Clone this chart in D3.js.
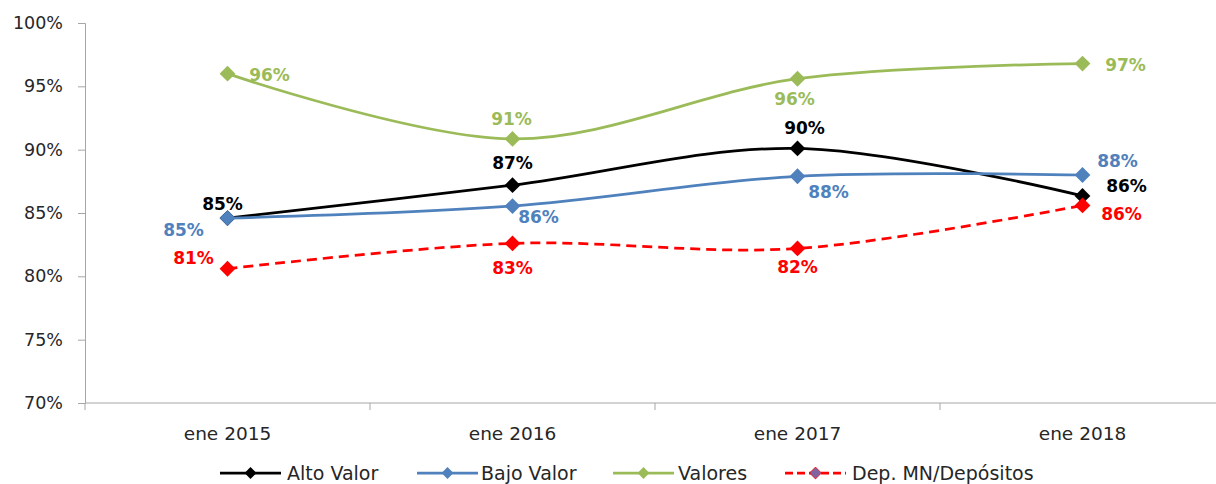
<!DOCTYPE html>
<html>
<head>
<meta charset="utf-8">
<script src="https://cdn.jsdelivr.net/npm/d3@7"></script>
<style>
  body { margin: 0; background: #fff; }
  svg { display: block; }
</style>
</head>
<body>
<script>
// categories and series values (share, 0-1)
const categories = ["ene 2015", "ene 2016", "ene 2017", "ene 2018"];
const altoValor = [0.846, 0.872, 0.901, 0.8635];
const bajoValor = [0.846, 0.8555, 0.879, 0.880];
const valores = [0.960, 0.9085, 0.956, 0.968];
const depMN = [0.806, 0.826, 0.822, 0.856];
const yTicks = [0.70, 0.75, 0.80, 0.85, 0.90, 0.95, 1.00];

const series = [
    {name: "Alto Valor", values: altoValor, color: '#000000', dash: null,
     labelOffsets: [[-5, -14], [0, -22], [7, -20], [44, -10]]},
    {name: "Bajo Valor", values: bajoValor, color: '#4f81bd', dash: null,
     labelOffsets: [[-44, 12], [26, 11], [31, 16], [35, -14]]},
    {name: "Valores", values: valores, color: '#9bbb59', dash: null,
     labelOffsets: [[42, 1], [-1, -20], [-3, 20], [43, 1]]},
    {name: "Dep. MN/Depósitos", values: depMN, color: '#ff0000', dash: '10,6',
     labelOffsets: [[-34, -11], [0, 25], [0, 19], [39, 9]]}
];

const width = 1216, height = 484;
const plot = {left: 85, right: 1225, top: 23, bottom: 403};

const svg = d3.select('body').append('svg')
    .attr('width', width)
    .attr('height', height);

const scaleX = d3.scaleBand()
    .domain(categories)
    .range([plot.left, plot.right]);

const scaleY = d3.scaleLinear()
    .domain([0.70, 1.00])
    .range([plot.bottom, plot.top]);

const xc = d => scaleX(d) + scaleX.bandwidth() / 2;

// y axis
const yAxis = d3.axisLeft(scaleY)
    .tickValues(yTicks)
    .tickFormat(d3.format('.0%'))
    .tickSize(7)
    .tickPadding(15);

const yAxisGroup = svg.append('g')
    .attr('transform', `translate(${plot.left}, 0)`)
    .call(yAxis);
yAxisGroup.selectAll('path, line').attr('stroke', '#a6a6a6');
yAxisGroup.selectAll('text')
    .attr('font-family', 'DejaVu Sans')
    .attr('font-size', 17.5)
    .attr('fill', '#262626');

// x axis, ticks between categories
const xAxisGroup = svg.append('g')
    .attr('transform', `translate(0, ${plot.bottom})`);
xAxisGroup.append('line')
    .attr('x1', plot.left).attr('x2', plot.right)
    .attr('stroke', '#a6a6a6');
xAxisGroup.selectAll('.tick-mark')
    .data(categories.concat(['end']))
    .enter()
    .append('line')
    .attr('class', 'tick-mark')
    .attr('x1', (d, i) => i < categories.length ? scaleX(d) : plot.right)
    .attr('x2', (d, i) => i < categories.length ? scaleX(d) : plot.right)
    .attr('y1', 0).attr('y2', 7)
    .attr('stroke', '#a6a6a6');
xAxisGroup.selectAll('.cat-label')
    .data(categories)
    .enter()
    .append('text')
    .attr('class', 'cat-label')
    .attr('x', d => xc(d))
    .attr('y', 37)
    .attr('text-anchor', 'middle')
    .attr('font-family', 'DejaVu Sans')
    .attr('font-size', 18.5)
    .attr('fill', '#262626')
    .text(d => d);

// lines
const line = d3.line()
    .x((d, i) => xc(categories[i]))
    .y(d => scaleY(d))
    .curve(d3.curveCardinal.tension(0));

const diamond = d3.symbol(d3.symbolSquare, 125);

series.forEach(s => {
    svg.append('path')
        .datum(s.values)
        .attr('d', line)
        .attr('fill', 'none')
        .attr('stroke', s.color)
        .attr('stroke-width', 2.75)
        .attr('stroke-dasharray', s.dash);

    svg.append('g')
        .selectAll('path')
        .data(s.values)
        .enter()
        .append('path')
        .attr('d', diamond)
        .attr('transform', (d, i) => `translate(${xc(categories[i])}, ${scaleY(d)}) rotate(45)`)
        .attr('fill', s.color);
});

// data labels
series.forEach(s => {
    svg.append('g')
        .selectAll('text')
        .data(s.values)
        .enter()
        .append('text')
        .attr('x', (d, i) => xc(categories[i]) + s.labelOffsets[i][0])
        .attr('y', (d, i) => scaleY(d) + s.labelOffsets[i][1])
        .attr('text-anchor', 'middle')
        .attr('dominant-baseline', 'central')
        .attr('font-family', 'DejaVu Sans')
        .attr('font-weight', 'bold')
        .attr('font-size', 17)
        .attr('fill', s.color)
        .text(d => d3.format('.0%')(d));
});

// legend
const legendItems = [
    {x: 220, textX: 287},
    {x: 417, textX: 481},
    {x: 613, textX: 678},
    {x: 785, textX: 852}
];
const legend = svg.append('g')
    .attr('transform', 'translate(0, 473)');
const legendSymbol = d3.symbol(d3.symbolSquare, 70);

series.forEach((s, i) => {
    const it = legendItems[i];
    legend.append('line')
        .attr('x1', it.x).attr('x2', it.x + 61)
        .attr('stroke', s.color)
        .attr('stroke-width', 2.75)
        .attr('stroke-dasharray', s.dash ? '8,4' : null);
    legend.append('path')
        .attr('d', legendSymbol)
        .attr('transform', `translate(${it.x + 30.5}, 0) rotate(45)`)
        .attr('fill', s.dash ? '#8064a2' : s.color)
        .attr('stroke', s.dash ? s.color : 'none')
        .attr('stroke-width', 0.75);
    legend.append('text')
        .attr('x', it.textX)
        .attr('y', 0)
        .attr('dominant-baseline', 'central')
        .attr('font-family', 'DejaVu Sans')
        .attr('font-size', 19)
        .attr('fill', '#262626')
        .text(s.name);
});
</script>
</body>
</html>
